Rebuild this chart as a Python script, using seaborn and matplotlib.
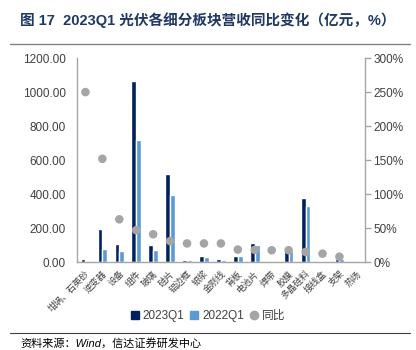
import numpy as np
import pandas as pd
import matplotlib
matplotlib.use("Agg")
import matplotlib.pyplot as plt
from matplotlib.lines import Line2D
from matplotlib.ticker import FuncFormatter, MultipleLocator
import seaborn as sns

categories = ['坩埚、石英砂', '逆变器', '设备', '组件', '玻璃', '硅片', '铝边框', '银浆',
              '金刚线', '背板', '电池片', '焊带', '胶膜', '多晶硅料', '接线盒', '支架', '热场']
rev_2023q1 = [18, 195, 104, 1065, 100, 517, 11, 36, 19, 38, 115, 5, 82, 378, 5, 20, 3]
rev_2022q1 = [9, 78, 65, 720, 72, 395, 10, 32, 15, 36, 100, 8, 68, 328, 7, 17, 6]
yoy_pct = [250, 152, 63, 47, 41, 31, 27.5, 27.5, 27.5, 18.5, 18, 17.5, 17.5, 15, 12.5, 8, np.nan]
series_names = ['2023Q1', '2022Q1', '同比']

sns.set_style("white")
plt.rcParams['font.family'] = ['Liberation Sans', 'Noto Sans CJK SC']
plt.rcParams['axes.unicode_minus'] = False

C_DARK = '#002060'
C_LIGHT = '#5B9BD5'
C_DOT = '#A5A5A5'
C_TEXT = '#404040'
C_AXIS = '#A6A6A6'

df = pd.DataFrame({
    'cat': categories * 2,
    'val': rev_2023q1 + rev_2022q1,
    'series': [series_names[0]] * len(categories) + [series_names[1]] * len(categories),
})

fig = plt.figure(figsize=(4.16, 3.5), dpi=100)
ax = fig.add_axes([0.185, 0.251, 0.692, 0.583])

sns.barplot(data=df, x='cat', y='val', hue='series', order=categories,
            hue_order=series_names[:2], palette=[C_DARK, C_LIGHT],
            width=0.56, gap=0, ax=ax, legend=False, saturation=1)
ax.set_xlim(-0.5, len(categories) - 0.5)
ax.set_ylim(0, 1200)
ax.yaxis.set_major_locator(MultipleLocator(200))
ax.yaxis.set_major_formatter(FuncFormatter(lambda v, p: f'{v:.2f}'))
ax.set_xlabel('')
ax.set_ylabel('')
ax.tick_params(axis='y', length=0, labelsize=8.5, labelcolor=C_TEXT, pad=8)
ax.tick_params(axis='x', length=0, labelsize=6.5, labelcolor=C_TEXT, pad=5)
for lab in ax.get_xticklabels():
    lab.set_rotation(45)
    lab.set_ha('right')
    lab.set_rotation_mode('anchor')
for s in ['top', 'right']:
    ax.spines[s].set_visible(False)
for s in ['left', 'bottom']:
    ax.spines[s].set_color(C_AXIS)
    ax.spines[s].set_linewidth(1)

ax2 = ax.twinx()
sns.scatterplot(x=np.arange(len(categories)), y=yoy_pct, ax=ax2, color=C_DOT,
                s=38, edgecolor='none', zorder=5, legend=False)
ax2.set_ylim(0, 300)
ax2.yaxis.set_major_locator(MultipleLocator(50))
ax2.yaxis.set_major_formatter(FuncFormatter(lambda v, p: f'{v:.0f}%'))
ax2.tick_params(axis='y', length=4, width=1, color=C_AXIS, labelsize=8.5,
                labelcolor=C_TEXT, pad=2, direction='out')
for s in ['top', 'left', 'bottom']:
    ax2.spines[s].set_visible(False)
ax2.spines['right'].set_color(C_AXIS)
ax2.spines['right'].set_linewidth(1)
ax2.set_ylabel('')

handles = [
    Line2D([], [], marker='s', linestyle='none', color=C_DARK, markersize=5.5),
    Line2D([], [], marker='s', linestyle='none', color=C_LIGHT, markersize=5.5),
    Line2D([], [], marker='o', linestyle='none', color=C_DOT, markersize=6),
]
fig.legend(handles, series_names, loc='center', bbox_to_anchor=(0.5, 0.097),
           ncol=3, frameon=False, fontsize=8.5, handlelength=0.7, handletextpad=0.3,
           columnspacing=0.5, labelcolor=C_TEXT)

fig.text(0.048, 0.943, '图 17  2023Q1 光伏各细分板块营收同比变化（亿元，%）',
         fontsize=10.5, fontweight='bold', color='#1F3864', va='center', ha='left')
fig.add_artist(Line2D([0.024, 0.985], [0.874, 0.874], color='#808080', linewidth=1))
fig.add_artist(Line2D([0.024, 0.985], [0.049, 0.049], color='#404040', linewidth=0.8))
fig.text(0.05, 0.02, '资料来源：Wind，信达证券研发中心', fontsize=8, color='#000000',
         va='center', ha='left', style='italic')

fig.savefig('out.png', dpi=100)
